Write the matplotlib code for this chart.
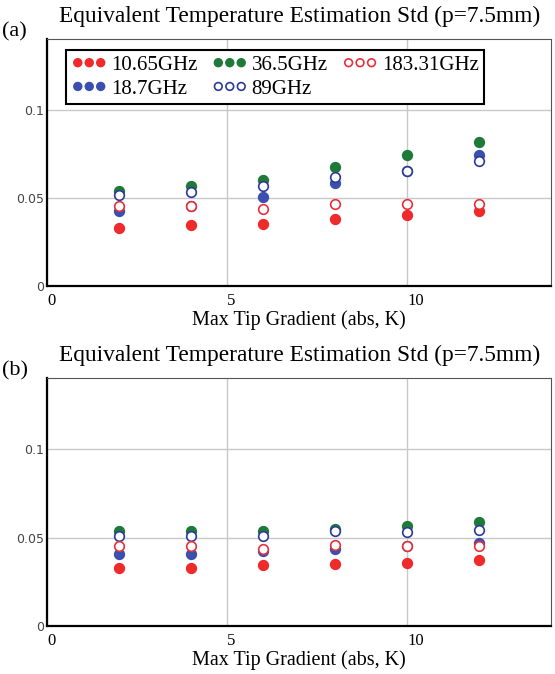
import matplotlib
matplotlib.use('Agg')
import matplotlib.pyplot as plt

# max tip gradient (abs, K)
grad = [2, 4, 6, 8, 10, 12]

labels = ['10.65GHz', '18.7GHz', '36.5GHz', '89GHz', '183.31GHz']
colors = ['#ee2a2a', '#3a4fae', '#1f7a3a', '#2b3a9a', '#e8303a']
filled = [True, True, True, False, False]

# panel (a)
std_a_1065 = [0.0328, 0.0343, 0.0352, 0.0381, 0.0400, 0.0424]
std_a_187 = [0.0422, 0.0455, 0.0504, 0.0583, 0.0652, 0.0743]
std_a_365 = [0.0536, 0.0564, 0.0602, 0.0674, 0.0743, 0.0814]
std_a_89 = [0.0517, 0.0532, 0.0564, 0.0616, 0.0650, 0.0706]
std_a_18331 = [0.0455, 0.0455, 0.0437, 0.0462, 0.0466, 0.0466]

# panel (b)
std_b_1065 = [0.0328, 0.0328, 0.0343, 0.0350, 0.0358, 0.0375]
std_b_187 = [0.0409, 0.0409, 0.0426, 0.0438, 0.0451, 0.0470]
std_b_365 = [0.0536, 0.0536, 0.0536, 0.0549, 0.0568, 0.0589]
std_b_89 = [0.0511, 0.0511, 0.0511, 0.0536, 0.0532, 0.0540]
std_b_18331 = [0.0455, 0.0455, 0.0438, 0.0460, 0.0455, 0.0451]

panels = [
    ('(a)', [std_a_1065, std_a_187, std_a_365, std_a_89, std_a_18331]),
    ('(b)', [std_b_1065, std_b_187, std_b_365, std_b_89, std_b_18331]),
]

serif = 'Liberation Serif'
fig = plt.figure(figsize=(5.55, 6.74), dpi=100)
rects = [[0.085, 0.576, 0.908, 0.366], [0.085, 0.071, 0.908, 0.368]]

for (tag, series), rect in zip(panels, rects):
    ax = fig.add_axes(rect)
    handles = []
    for ys, c, f, lab in zip(series, colors, filled, labels):
        h = ax.scatter(grad, ys, s=48, marker='o',
                       facecolors=c if f else 'white',
                       edgecolors=c, linewidths=1.2, label=lab, zorder=3)
        handles.append(h)
    ax.set_xlim(0, 14)
    ax.set_ylim(0, 0.14)
    ax.set_xticks([0, 5, 10])
    ax.set_yticks([0, 0.05, 0.1])
    ax.set_yticklabels(['0', '0.05', '0.1'])
    ax.grid(True, color='#c8c8c8', linewidth=1)
    ax.set_axisbelow(True)
    ax.tick_params(axis='x', length=0, pad=5)
    ax.tick_params(axis='y', length=0, pad=2)
    for t in ax.get_xticklabels():
        t.set_fontfamily(serif)
        t.set_fontsize(12)
        t.set_horizontalalignment('left')
    for t in ax.get_yticklabels():
        t.set_fontfamily('DejaVu Sans')
        t.set_fontsize(9)
        t.set_color('#444444')
    ax.spines['left'].set_linewidth(1.6)
    ax.spines['bottom'].set_linewidth(1.6)
    ax.spines['top'].set_color('#555555')
    ax.spines['right'].set_color('#555555')
    ax.set_xlabel('Max Tip Gradient (abs, K)', fontfamily=serif, fontsize=14.5, labelpad=1)
    ax.set_title('Equivalent Temperature Estimation Std (p=7.5mm)',
                 fontfamily=serif, fontsize=16.8, pad=12)
    ax.text(-0.09, 1.03, tag, transform=ax.transAxes, fontfamily=serif,
            fontsize=16, va='center', ha='left')
    if tag == '(a)':
        leg = ax.legend(handles=handles, ncol=3, scatterpoints=3,
                        scatteryoffsets=[0.5], markerscale=0.8,
                        loc='upper left', bbox_to_anchor=(0.038, 0.955),
                        prop={'family': serif, 'size': 15},
                        fancybox=False, framealpha=1, edgecolor='black',
                        borderpad=0.25, handletextpad=0.2, columnspacing=0.7,
                        labelspacing=0.2, handlelength=1.7, borderaxespad=0)
        leg.get_frame().set_linewidth(1.5)

fig.savefig('out.png', dpi=100)
